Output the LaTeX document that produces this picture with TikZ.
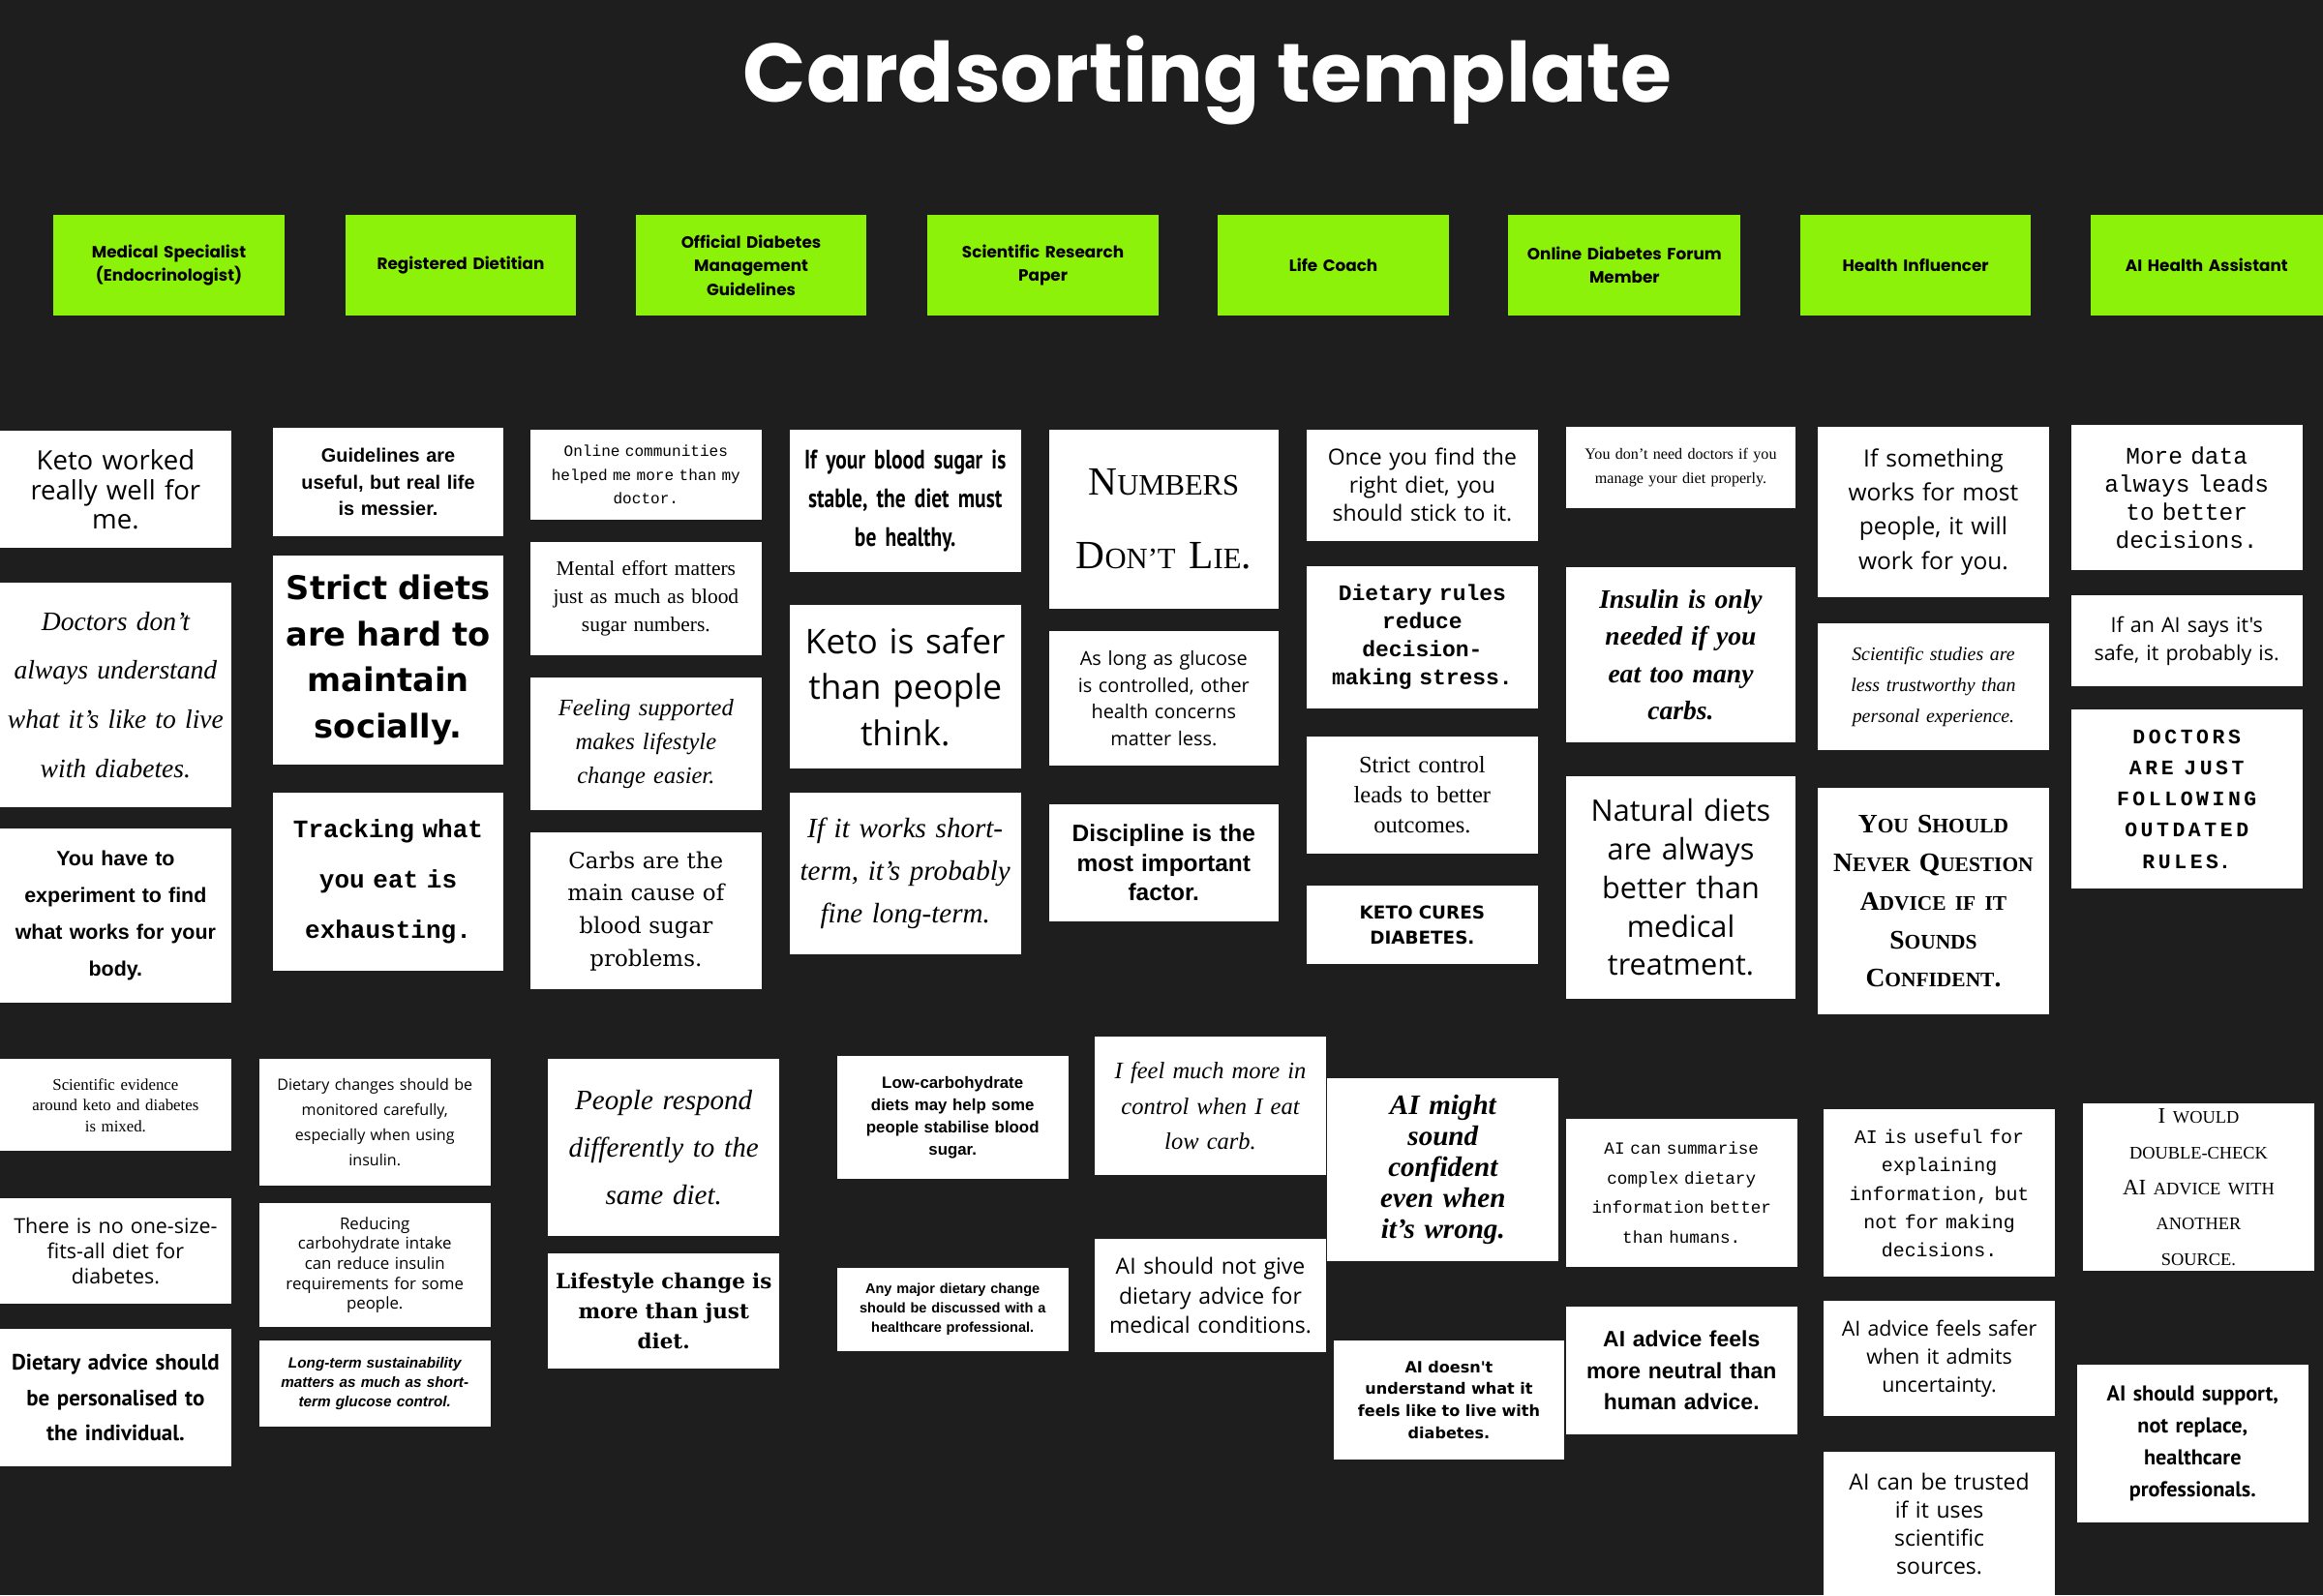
\documentclass[tikz,border=0pt]{standalone}
\usepackage{fontspec}
\setmainfont{Liberation Serif}
\newfontfamily\pop{Poppins}
\newfontfamily\lib{Liberation Sans}
\newfontfamily\mono{Liberation Mono}
\newfontfamily\dvs{DejaVu Sans}
\newfontfamily\dvser{DejaVu Serif}
\newfontfamily\opens{Open Sans}
\newfontfamily\ptsans{PT Sans}
\newfontfamily\cond[FakeStretch=0.78]{PT Sans}
\definecolor{bg}{HTML}{1E1E1E}
\definecolor{lime}{HTML}{8CF20A}
\tikzset{cardbox/.style={fill=white,draw=none},
 cardtext/.style={align=center,text=black,inner sep=0pt,
   execute at begin node={\hyphenpenalty=10000\exhyphenpenalty=10000\tolerance=9999}},
 headbox/.style={fill=lime,draw=none}}
\newcommand\card[7]{%
 \path[cardbox] (#2,#3) rectangle (#4,#5);
 \pgfmathsetmacro\cw{#4-#2-8}%
 \node[cardtext,text width=\cw pt,font=#6] (#1) at ({(#2+#4)/2},{(#3+#5)/2}) {#7};}
\newcommand\head[4]{%
 \path[headbox] (#2,145) rectangle (#3,213);
 \node[cardtext,text width=150pt,font=\pop\bfseries\fontsize{11}{16}\selectfont] (#1) at ({(#2+#3)/2},179) {#4};}
\newcommand\sm[1]{{\fontsize{14}{26}\selectfont #1}}
\newcommand\smr[1]{{\fontsize{12}{24}\selectfont #1}}
\newcommand\smn[1]{{\fontsize{20}{50}\selectfont #1}}
\begin{document}
\begin{tikzpicture}[x=1pt,y=-1pt]
\fill[bg] (0,0) rectangle (1568,1077);
\useasboundingbox (0,0) rectangle (1568,1077);
\node[text=white,font=\pop\bfseries\fontsize{56}{60}\selectfont] (title) at (815,54) {Cardsorting template};
\head{h1}{36}{192}{Medical Specialist\\(Endocrinologist)}
\head{h2}{233}{389}{Registered Dietitian}
\head{h3}{429}{585}{Official Diabetes\\Management\\Guidelines}
\head{h4}{626}{782}{Scientific Research\\Paper}
\head{h5}{822}{978}{Life Coach}
\head{h6}{1018}{1175}{Online Diabetes Forum\\Member}
\head{h7}{1215}{1371}{Health Influencer}
\head{h8}{1411}{1568}{AI Health Assistant}
% column 1
\card{a1}{0}{291}{156}{370}{\opens\fontsize{18}{20}\selectfont}{Keto worked\\really well for\\me.}
\card{a2}{0}{393}{156}{545}{\itshape\fontsize{18}{33}\selectfont}{Doctors don't\\always understand\\what it's like to live\\with diabetes.}
\card{a3}{0}{559}{156}{677}{\lib\bfseries\fontsize{14}{25}\selectfont}{You have to\\experiment to find\\what works for your\\body.}
% column 2
\card{b1}{184}{289}{340}{362}{\lib\bfseries\fontsize{13}{18}\selectfont}{Guidelines are\\useful, but real life\\is messier.}
\card{b2}{184}{375}{340}{516}{\dvs\bfseries\fontsize{22}{31}\selectfont}{Strict diets\\are hard to\\maintain\\socially.}
\card{b3}{184}{535}{340}{655}{\mono\bfseries\fontsize{17}{34}\selectfont}{Tracking what\\you eat is\\exhausting.}
% column 3
\card{c1}{358}{290}{514}{351}{\mono\fontsize{10.5}{16}\selectfont}{Online communities\\helped me more than my\\doctor.}
\card{c2}{358}{366}{514}{442}{\fontsize{14}{19}\selectfont}{Mental effort matters\\just as much as blood\\sugar numbers.}
\card{c3}{358}{457}{514}{547}{\itshape\fontsize{16}{23}\selectfont}{Feeling supported\\makes lifestyle\\change easier.}
\card{c4}{358}{562}{514}{668}{\dvser\fontsize{15}{22}\selectfont}{Carbs are the\\main cause of\\blood sugar\\problems.}
% column 4
\card{d1}{533}{290}{689}{386}{\cond\bfseries\fontsize{18}{26}\selectfont}{If your blood sugar is\\stable, the diet must\\be healthy.}
\card{d2}{533}{408}{689}{519}{\opens\fontsize{23}{31}\selectfont}{Keto is safer\\than people\\think.}
\card{d3}{533}{535}{689}{644}{\itshape\fontsize{19}{29}\selectfont}{If it works short-\\term, it's probably\\fine long-term.}
% column 5
\card{e1}{708}{290}{863}{411}{\fontsize{27}{50}\selectfont}{N\smn{UMBERS}\\D\smn{ON'T} L\smn{IE}.}
\card{e2}{708}{426}{863}{517}{\opens\fontsize{13}{18}\selectfont}{As long as glucose\\is controlled, other\\health concerns\\matter less.}
\card{e3}{708}{543}{863}{622}{\lib\bfseries\fontsize{16}{20}\selectfont}{Discipline is the\\most important\\factor.}
% column 6
\card{f1}{882}{290}{1038}{365}{\opens\fontsize{15}{19}\selectfont}{Once you find the\\right diet, you\\should stick to it.}
\card{f2}{882}{382}{1038}{478}{\mono\bfseries\fontsize{15}{19}\selectfont}{Dietary rules\\reduce\\decision-\\making stress.}
\card{f3}{882}{497}{1038}{576}{\fontsize{16}{20}\selectfont}{Strict control\\leads to better\\outcomes.}
\card{f4}{882}{598}{1038}{651}{\dvs\bfseries\fontsize{12}{17}\selectfont}{KETO CURES\\DIABETES.}
% column 7
\card{g1}{1057}{288}{1212}{343}{\fontsize{10.5}{16}\selectfont}{You don't need doctors if you\\manage your diet properly.}
\card{g2}{1057}{383}{1212}{501}{\bfseries\itshape\fontsize{18}{25}\selectfont}{Insulin is only\\needed if you\\eat too many\\carbs.}
\card{g3}{1057}{524}{1212}{674}{\opens\fontsize{20}{26}\selectfont}{Natural diets\\are always\\better than\\medical\\treatment.}
% column 8
\card{h1c}{1227}{288}{1383}{403}{\opens\fontsize{16}{23}\selectfont}{If something\\works for most\\people, it will\\work for you.}
\card{h2c}{1227}{421}{1383}{506}{\itshape\fontsize{13}{21}\selectfont}{Scientific studies are\\less trustworthy than\\personal experience.}
\card{h3c}{1227}{532}{1383}{685}{\bfseries\fontsize{18}{26}\selectfont}{Y\sm{OU} S\sm{HOULD}\\N\sm{EVER} Q\sm{UESTION}\\A\sm{DVICE IF IT}\\S\sm{OUNDS}\\C\sm{ONFIDENT}.}
% column 9
\card{i1}{1398}{287}{1554}{385}{\mono\fontsize{16}{19}\selectfont}{More data\\always leads\\to better\\decisions.}
\card{i2}{1398}{402}{1554}{463}{\opens\fontsize{14}{19}\selectfont}{If an AI says it's\\safe, it probably is.}
\card{i3}{1398}{479}{1554}{600}{\mono\bfseries\fontsize{14}{21}\selectfont}{D\,O\,C\,T\,O\,R\,S\\A\,R\,E \,J\,U\,S\,T\\F\,O\,L\,L\,O\,W\,I\,N\,G\\O\,U\,T\,D\,A\,T\,E\,D\\R\,U\,L\,E\,S.}
% bottom group
\card{j1}{0}{715}{156}{777}{\fontsize{11}{14}\selectfont}{Scientific evidence\\around keto and diabetes\\is mixed.}
\card{j2}{0}{809}{156}{880}{\opens\fontsize{14}{17}\selectfont}{There is no one-size-\\fits-all diet for\\diabetes.}
\card{j3}{0}{897}{156}{990}{\ptsans\bfseries\fontsize{15}{24}\selectfont}{Dietary advice should\\be personalised to\\the individual.}
\card{k1}{175}{715}{331}{800}{\opens\fontsize{10.5}{17}\selectfont}{Dietary changes should be\\monitored carefully,\\especially when using\\insulin.}
\card{k2}{175}{812}{331}{896}{\opens\fontsize{11}{13.5}\selectfont}{Reducing\\carbohydrate intake\\can reduce insulin\\requirements for some\\people.}
\card{k3}{175}{905}{331}{963}{\lib\bfseries\itshape\fontsize{10}{13}\selectfont}{Long-term sustainability\\matters as much as short-\\term glucose control.}
\card{l1}{370}{715}{526}{834}{\itshape\fontsize{19}{32}\selectfont}{People respond\\differently to the\\same diet.}
\card{l2}{370}{846}{526}{924}{\dvser\bfseries\fontsize{14}{20}\selectfont}{Lifestyle change is\\more than just\\diet.}
\card{m1}{565}{713}{721}{796}{\lib\bfseries\fontsize{11}{15}\selectfont}{Low-carbohydrate\\diets may help some\\people stabilise blood\\sugar.}
\card{m2}{565}{856}{721}{912}{\lib\bfseries\fontsize{9.5}{13}\selectfont}{Any major dietary change\\should be discussed with a\\healthcare professional.}
\card{n1}{739}{700}{895}{793}{\itshape\fontsize{16}{24}\selectfont}{I feel much more in\\control when I eat\\low carb.}
\card{n2}{739}{836}{895}{913}{\opens\fontsize{15}{20}\selectfont}{AI should not give\\dietary advice for\\medical conditions.}
\card{o1}{896}{728}{1052}{851}{\bfseries\itshape\fontsize{19}{21}\selectfont}{AI might\\sound\\confident\\even when\\it's wrong.}
\card{o2}{900}{905}{1056}{985}{\dvs\bfseries\fontsize{10.5}{15}\selectfont}{AI doesn't\\understand what it\\feels like to live with\\diabetes.}
\card{p1}{1057}{755}{1213}{855}{\mono\fontsize{11.5}{20}\selectfont}{AI can summarise\\complex dietary\\information better\\than humans.}
\card{p2}{1057}{882}{1213}{968}{\lib\bfseries\fontsize{15}{21}\selectfont}{AI advice feels\\more neutral than\\human advice.}
\card{q1}{1231}{749}{1387}{862}{\mono\fontsize{13}{19}\selectfont}{AI is useful for\\explaining\\information, but\\not for making\\decisions.}
\card{q2}{1231}{878}{1387}{956}{\opens\fontsize{14}{19}\selectfont}{AI advice feels safer\\when it admits\\uncertainty.}
\card{q3}{1231}{980}{1387}{1077}{\opens\fontsize{15}{19}\selectfont}{AI can be trusted\\if it uses\\scientific\\sources.}
\card{r1}{1406}{745}{1562}{858}{\fontsize{15}{24}\selectfont}{I \smr{WOULD}\\\smr{DOUBLE-CHECK}\\AI \smr{ADVICE WITH}\\\smr{ANOTHER}\\\smr{SOURCE.}}
\card{r2}{1402}{921}{1558}{1028}{\ptsans\bfseries\fontsize{14.5}{21.5}\selectfont}{AI should support,\\not replace,\\healthcare\\professionals.}
\end{tikzpicture}
\end{document}
